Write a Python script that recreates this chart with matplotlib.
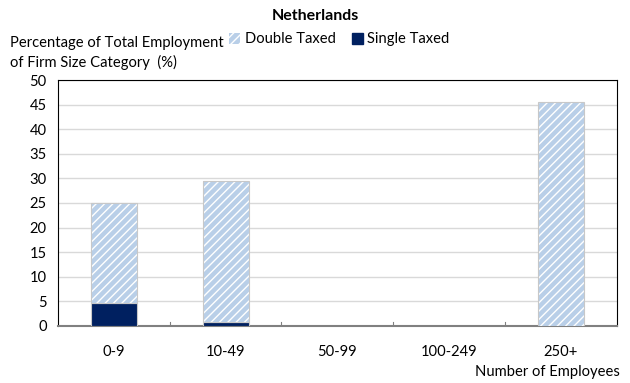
import matplotlib.pyplot as plt
import numpy as np
from matplotlib.patches import Patch

plt.rcParams['font.family'] = ['Lato', 'DejaVu Sans']

categories = ["0-9", "10-49", "50-99", "100-249", "250+"]
single_taxed = [4.7, 0.9, 0, 0, 0]
double_taxed = [20.2, 28.5, 0, 0, 45.6]
yticks = [0, 5, 10, 15, 20, 25, 30, 35, 40, 45, 50]

light_blue = "#b9cfe8"
navy = "#002060"
fs = 10.6

fig = plt.figure(figsize=(6.3, 3.83), dpi=100)
ax = fig.add_axes([0.092, 0.149, 0.887, 0.642])

x = np.arange(len(categories))
w = 0.41
has_single = [v > 0 for v in single_taxed]
has_double = [v > 0 for v in double_taxed]
xs = x[has_single]
xd = x[has_double]
ss = np.array(single_taxed)[has_single]
sd = np.array(single_taxed)[has_double]
dd = np.array(double_taxed)[has_double]

ax.bar(xs, ss, w, color=navy, edgecolor="#c8c8c8", linewidth=0.8, zorder=3)
ax.bar(xd, dd, w, bottom=sd, color=light_blue, edgecolor="white",
       hatch="////", linewidth=0, zorder=3)
ax.bar(xd, dd, w, bottom=sd, facecolor="none", edgecolor="#c8c8c8",
       linewidth=0.8, zorder=4)

ax.set_xlim(-0.5, len(categories) - 0.5)
ax.set_ylim(0, 50)
ax.set_yticks(yticks)
ax.yaxis.grid(True, color="#d9d9d9", linewidth=1)
ax.set_axisbelow(True)
ax.tick_params(axis="y", length=0, labelsize=fs, pad=8)
ax.set_xticks(x)
ax.set_xticklabels(categories, fontsize=fs)
ax.tick_params(axis="x", length=0, pad=14)
for b in x[:-1] + 0.5:
    ax.plot([b, b], [0, 0.8], color="#808080", linewidth=0.8, zorder=2)

for s in ["left", "top", "right"]:
    ax.spines[s].set_color("black")
    ax.spines[s].set_linewidth(0.8)
ax.spines["bottom"].set_color("#808080")
ax.spines["bottom"].set_linewidth(1.5)

fig.text(0.5, 0.958, "Netherlands", ha="center", va="center",
         fontsize=11.5, fontweight="bold")
fig.text(0.016, 0.888, "Percentage of Total Employment", ha="left",
         va="center", fontsize=fs)
fig.text(0.016, 0.838, "of Firm Size Category  (%)", ha="left",
         va="center", fontsize=fs)
fig.text(0.984, 0.028, "Number of Employees", ha="right", va="center",
         fontsize=fs)

handles = [Patch(facecolor=light_blue, edgecolor="white", hatch="////", linewidth=0),
           Patch(facecolor=navy, edgecolor=navy)]
fig.legend(handles, ["Double Taxed", "Single Taxed"], loc="center left",
           bbox_to_anchor=(0.352, 0.897), ncol=2, frameon=False,
           fontsize=fs, handlelength=0.75, handleheight=0.75,
           handletextpad=0.3, columnspacing=1.1, borderpad=0)

fig.savefig("out.png", dpi=100)
